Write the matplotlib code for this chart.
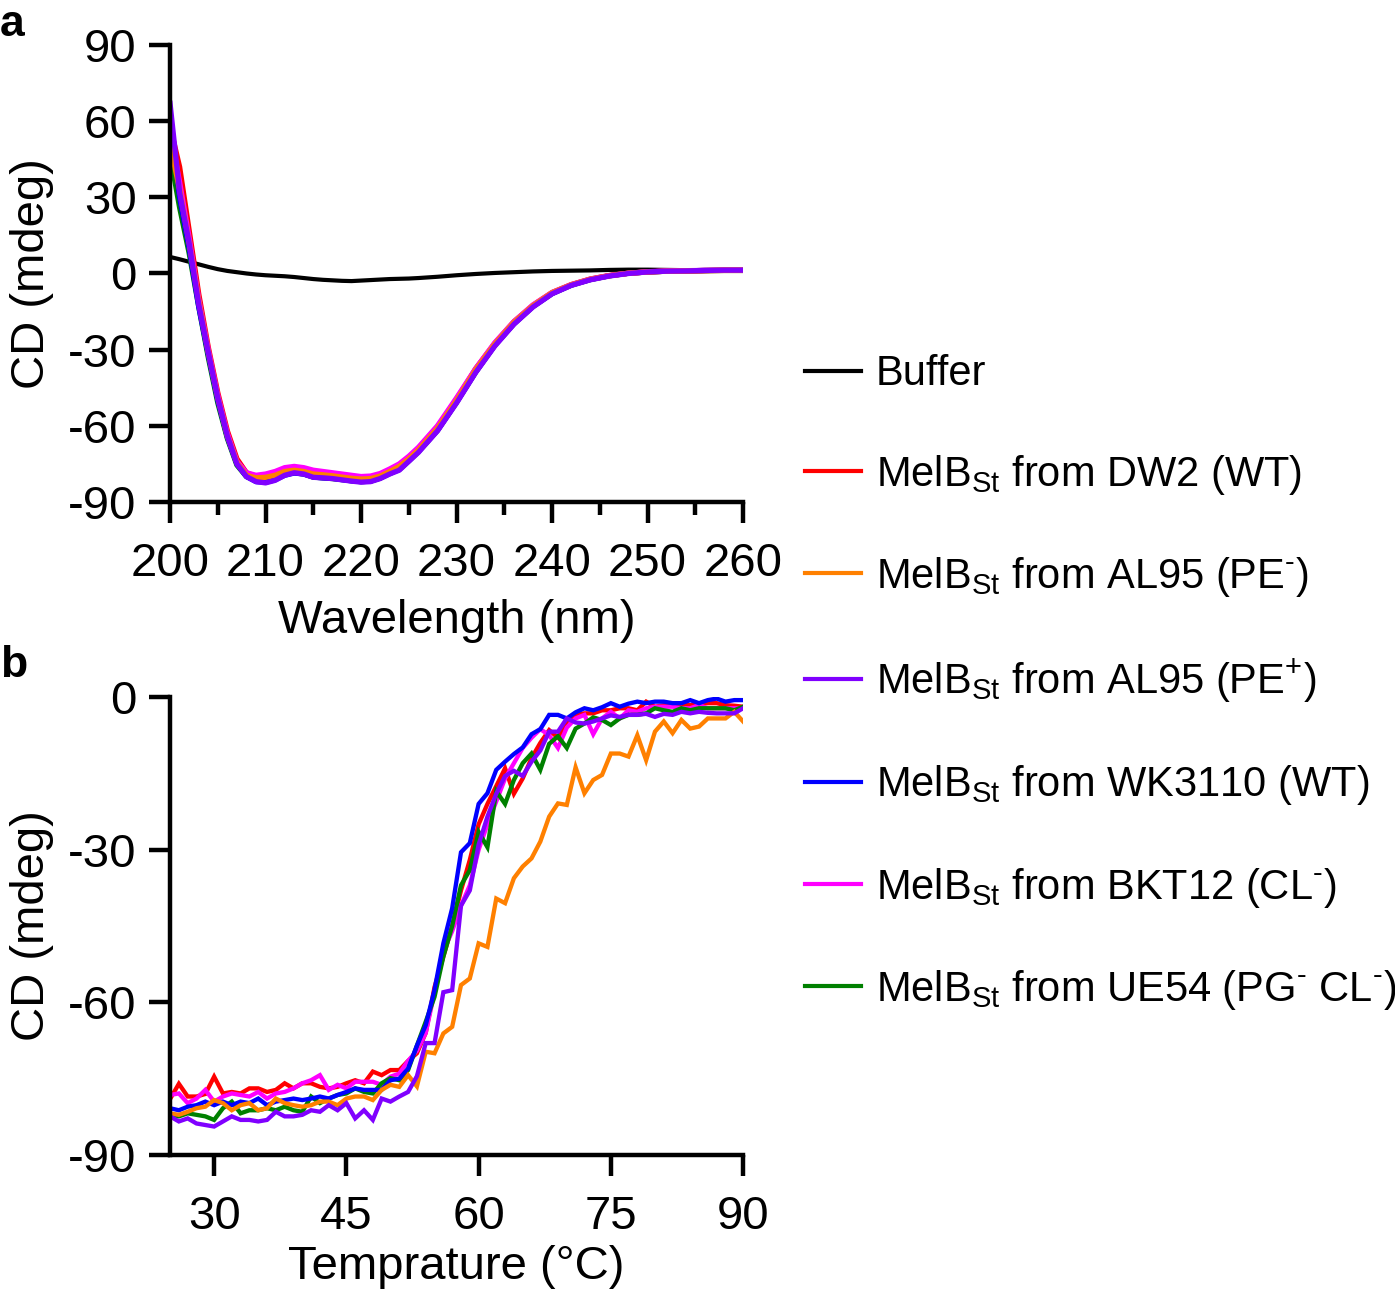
import numpy as np
import matplotlib
matplotlib.use('Agg')
import matplotlib.pyplot as plt

plt.rcParams['font.family'] = ['Liberation Sans', 'DejaVu Sans']
plt.rcParams['mathtext.fontset'] = 'custom'
plt.rcParams['mathtext.rm'] = 'Liberation Sans'
plt.rcParams['mathtext.it'] = 'Liberation Sans:italic'
plt.rcParams['mathtext.bf'] = 'Liberation Sans:bold'
plt.rcParams['axes.unicode_minus'] = False

# ---- panel a: CD spectra ----
wl = [200, 201, 202, 203, 204, 205, 206, 207, 208, 209, 210, 211, 212, 213, 214,
      215, 216, 217, 218, 219, 220, 221, 222, 223, 224, 225, 226, 228, 230, 232,
      234, 236, 238, 240, 242, 244, 246, 248, 250, 252, 254, 256, 258, 260]

buffer_a = [6.5, 5.6, 4.6, 3.6, 2.6, 1.7, 1.0, 0.5, 0.0, -0.4, -0.7, -0.9, -1.1, -1.4, -1.8,
            -2.2, -2.5, -2.7, -2.9, -3.0, -2.8, -2.6, -2.4, -2.2, -2.1, -2.0, -1.8, -1.3, -0.7, -0.2,
            0.2, 0.5, 0.8, 1.0, 1.1, 1.2, 1.4, 1.5, 1.5, 1.4, 1.3, 1.3, 1.3, 1.3]
dw2_a = [58, 42, 17, -8, -29, -47, -62, -73, -78.5, -80, -79.5, -79, -77.8, -77, -77.5,
         -78.3, -78.7, -79, -79.4, -80, -80.5, -80.3, -79.3, -77.6, -75.8, -72.6, -69, -60.5, -49.5, -37.5,
         -27.5, -19, -12.5, -7.5, -4.4, -2.2, -0.8, 0.1, 0.6, 0.9, 1, 1.1, 1.2, 1.2]
al95m_a = [51, 33, 12, -11, -31, -49, -64, -74.5, -79.5, -80.5, -80.3, -79.5, -78, -77.5, -78,
           -79, -79.3, -79.7, -80.2, -80.7, -81, -80.8, -79.8, -78, -76, -73, -69.5, -61, -50, -38,
           -27.8, -19.3, -12.7, -7.6, -4.5, -2.3, -0.9, 0.1, 0.6, 0.9, 1, 1.2, 1.3, 1.3]
al95p_a = [67, 32, 12, -12, -31, -49, -64, -75, -80, -82, -82.5, -81.5, -79.5, -78.5, -79,
           -80.3, -80.5, -80.8, -81.3, -81.8, -82.2, -82, -80.8, -79, -77.5, -74, -70.5, -62, -51, -39,
           -28.6, -20, -13.2, -8, -4.7, -2.5, -1, 0, 0.6, 0.9, 1, 1.2, 1.3, 1.3]
wk3110_a = [62, 30, 10, -13, -32, -50, -64.5, -75, -80, -82, -82.3, -81.3, -79.5, -78.6, -79,
            -80.2, -80.5, -80.7, -81.2, -81.7, -82, -81.8, -80.6, -78.8, -77.2, -73.8, -70.2, -61.8, -50.7, -38.8,
            -28.3, -19.8, -13, -7.9, -4.6, -2.4, -0.9, 0.1, 0.6, 0.9, 1, 1.2, 1.3, 1.3]
bkt12_a = [56, 36, 14, -10, -30, -48, -63, -74, -78.5, -79.5, -79, -78, -76.5, -76, -76.5,
           -77.5, -78, -78.5, -79, -79.5, -80, -79.8, -78.8, -77, -75, -72, -68.5, -60, -49, -37.5,
           -27.3, -19, -12.4, -7.5, -4.4, -2.2, -0.8, 0.1, 0.7, 1, 1.1, 1.2, 1.3, 1.3]
ue54_a = [47, 26, 8, -13, -33, -51, -65, -75.5, -80, -81.5, -81.8, -81, -79.2, -78.5, -79,
          -80.2, -80.5, -80.8, -81.2, -81.6, -82, -81.8, -80.6, -78.8, -77.2, -73.8, -70.2, -61.8, -50.7, -38.8,
          -28.3, -19.8, -13, -7.9, -4.6, -2.4, -0.9, 0.1, 0.6, 0.9, 1, 1.1, 1.2, 1.2]

# ---- panel b: thermal melting, 25..90 C in 1 C steps ----
temp = np.arange(25, 91)

dw2_b = [-79, -76, -78.5, -78.5, -78, -74.6, -77.9, -77.6, -77.9, -76.9, -76.9, -77.6, -77.2, -75.9, -76.9,
         -75.9, -75.9, -76.6, -76.9, -76.6, -75.9, -75.3, -75.9, -73.6, -74.3, -73.3, -73.3, -71.5, -70, -66,
         -57, -51, -45, -38, -32, -25, -21, -17.5, -14, -19, -16, -12, -9, -6.5, -8,
         -4.8, -3.5, -3.2, -3.2, -2.6, -2.6, -2.2, -2.2, -2.6, -0.9, -1.9, -1.6, -1.6, -1.3, -1.6,
         -1.3, -1.2, -1.2, -1.6, -1.7, -1.9]
al95m_b = [-81.8, -82.1, -81.5, -80.8, -80.5, -79.2, -79.8, -81.2, -80.2, -79.8, -81.2, -80.8, -78.9, -79.8, -80.2,
           -80.5, -80.2, -79.5, -79.5, -80.2, -78.9, -78.5, -78.5, -79.2, -77.2, -76.2, -76.6, -74.3, -76.5, -69.7,
           -70, -66.1, -64.8, -56.6, -55.3, -48.4, -49.1, -39.6, -40.5, -35.6, -33.3, -31.7, -28.4, -23.5, -20.9,
           -21.2, -13.8, -18.9, -16.3, -15.3, -11.1, -11.1, -11.7, -7.5, -12.4, -6.8, -4.8, -7.1, -4.5, -6.2,
           -5.8, -4.2, -4.2, -4.2, -2.9, -4.8]
al95p_b = [-82.4, -83.4, -82.8, -83.8, -84.1, -84.4, -83.4, -82.4, -83.1, -83.1, -83.4, -83.1, -81.5, -82.4, -82.4,
           -82.1, -81.2, -81.5, -80.2, -81.2, -79.8, -82.8, -81.2, -83.1, -78.9, -79.5, -78.5, -77.6, -74.5, -68,
           -68, -58, -57.6, -41, -38, -29, -23.5, -19, -15.5, -14.5, -15.5, -12.7, -10.5, -6.8, -6.8,
           -4.2, -5, -5.2, -4.8, -4.2, -3.6, -3.9, -3.5, -3.5, -3.3, -3.9, -3.3, -3.5, -2.9, -3.2,
           -2.9, -3.1, -3.2, -3.2, -3.2, -2.2]
wk3110_b = [-80.8, -81.2, -80.5, -80.2, -79.5, -80.2, -79.5, -80.2, -79.5, -79.8, -78.9, -80.2, -79.5, -79.2, -78.9,
            -79.2, -78.9, -78.5, -78.9, -78.2, -77.6, -76.9, -77.2, -77.2, -77.2, -75.3, -75, -73, -68.5, -64.5,
            -57.5, -48.4, -41.5, -30.5, -28.7, -21, -18.9, -14.3, -12.7, -11.2, -9.9, -7.3, -6.3, -3.5, -3.5,
            -4.2, -3, -2.2, -2.6, -2, -1.2, -1.9, -1.3, -0.9, -1.2, -0.9, -0.9, -1.2, -1.2, -0.6,
            -1.2, -0.6, -0.3, -0.9, -0.6, -0.6]
bkt12_b = [-78.2, -77.9, -79.8, -78.9, -77.2, -79.5, -78.5, -77.9, -78.2, -78.5, -77.6, -78.9, -77.9, -77.6, -76.9,
           -75.9, -75.3, -74.3, -77.2, -76.2, -76.9, -75.6, -75.6, -75.6, -76.2, -74.6, -74, -71.5, -69.5, -66,
           -58, -50, -46, -41, -37, -30, -25, -20.5, -16, -13, -10, -8, -6.3, -7.5, -10,
           -6, -4.2, -3.5, -7.3, -4.2, -2.9, -4.2, -2.6, -2.9, -2.2, -1.9, -1.9, -1.9, -2.2, -2.2,
           -1.6, -2.2, -2.2, -2.2, -2.2, -2.2]
ue54_b = [-82.1, -82.4, -81.8, -82.1, -82.4, -83.1, -80.8, -79.5, -81.8, -81.2, -81.2, -80.8, -81.2, -80.5, -81.2,
          -81.5, -78.5, -79.8, -78.9, -78.2, -77.9, -76.9, -77.6, -77.9, -75.9, -74.9, -75.3, -73.3, -68.5, -63.8,
          -58.9, -51, -45, -37, -34, -26.5, -29.5, -18.5, -21, -16.3, -13, -11.1, -14.3, -9.2, -7.7,
          -10, -6.2, -5.2, -4, -4.5, -5.5, -4.2, -3.5, -3.5, -3.2, -2.2, -2.6, -2.9, -2.2, -2.6,
          -2.2, -2.2, -2.2, -2.2, -2.6, -1.9]

labels = ['Buffer',
          'MelB$_{\\mathrm{St}}$ from DW2 (WT)',
          'MelB$_{\\mathrm{St}}$ from AL95 (PE$^{\\text{-}}$)',
          'MelB$_{\\mathrm{St}}$ from AL95 (PE$^{+}$)',
          'MelB$_{\\mathrm{St}}$ from WK3110 (WT)',
          'MelB$_{\\mathrm{St}}$ from BKT12 (CL$^{\\text{-}}$)',
          'MelB$_{\\mathrm{St}}$ from UE54 (PG$^{\\text{-}}$ CL$^{\\text{-}}$)']
colors = ['black', '#ff0000', '#ff8000', '#8000ff', '#0000ff', '#ff00ff', '#008000']

fs = 34
fs_leg = 30
fig = plt.figure(figsize=(13.95, 12.93), dpi=100)
ax1 = fig.add_axes([0.1219, 0.6118, 0.4108, 0.3534])
ax2 = fig.add_axes([0.1219, 0.1067, 0.4108, 0.3542])

# draw order for panel a (purple ends on top)
series_a = [buffer_a, dw2_a, al95m_a, al95p_a, wk3110_a, bkt12_a, ue54_a]
order_a = [0, 6, 4, 1, 5, 2, 3]
handles = [None] * 7
for i in order_a:
    lw = 3.0 if i == 0 else 3.8
    ln, = ax1.plot(wl, series_a[i], color=colors[i], lw=lw, label=labels[i],
                   solid_joinstyle='round')
    handles[i] = ln

series_b = [None, dw2_b, al95m_b, al95p_b, wk3110_b, bkt12_b, ue54_b]
order_b = [1, 5, 6, 4, 2, 3]
for i in order_b:
    ax2.plot(temp, series_b[i], color=colors[i], lw=3.1, solid_joinstyle='miter')

for ax in (ax1, ax2):
    for s in ('top', 'right'):
        ax.spines[s].set_visible(False)
    for s in ('left', 'bottom'):
        ax.spines[s].set_linewidth(3.2)
    ax.tick_params(which='major', direction='out', length=15, width=3.2,
                   labelsize=fs, pad=9)
    ax.tick_params(axis='x', which='major', pad=14)
    ax.set_ylabel('CD (mdeg)', fontsize=fs, labelpad=10)

ax1.set_xlim(200, 260)
ax1.set_ylim(-90, 90)
ax1.set_xticks(np.arange(200, 261, 10))
ax1.set_xticks(np.arange(205, 260, 10), minor=True)
ax1.set_yticks(np.arange(-90, 91, 30))
ax1.tick_params(axis='x', which='minor', direction='out', length=9, width=3.2)
ax1.set_xlabel('Wavelength (nm)', fontsize=fs, labelpad=9)

ax2.set_xlim(25, 90)
ax2.set_ylim(-90, 0)
ax2.set_xticks(np.arange(30, 91, 15))
ax2.set_yticks(np.arange(-90, 1, 30))
ax2.set_xlabel('Temprature (°C)', fontsize=fs, labelpad=4)

fig.text(0.0, 0.997, 'a', fontsize=32, fontweight='bold', va='top', ha='left')
fig.text(0.0, 0.501, 'b', fontsize=32, fontweight='bold', va='top', ha='left')

leg = fig.legend(handles=handles, labels=labels, loc='upper left',
                 bbox_to_anchor=(0.577, 0.726), frameon=False, fontsize=fs_leg,
                 handlelength=1.35, handletextpad=0.35, labelspacing=1.4,
                 borderpad=0, borderaxespad=0)
for ln in leg.get_lines():
    ln.set_linewidth(3)

fig.savefig('out.png', dpi=100)
